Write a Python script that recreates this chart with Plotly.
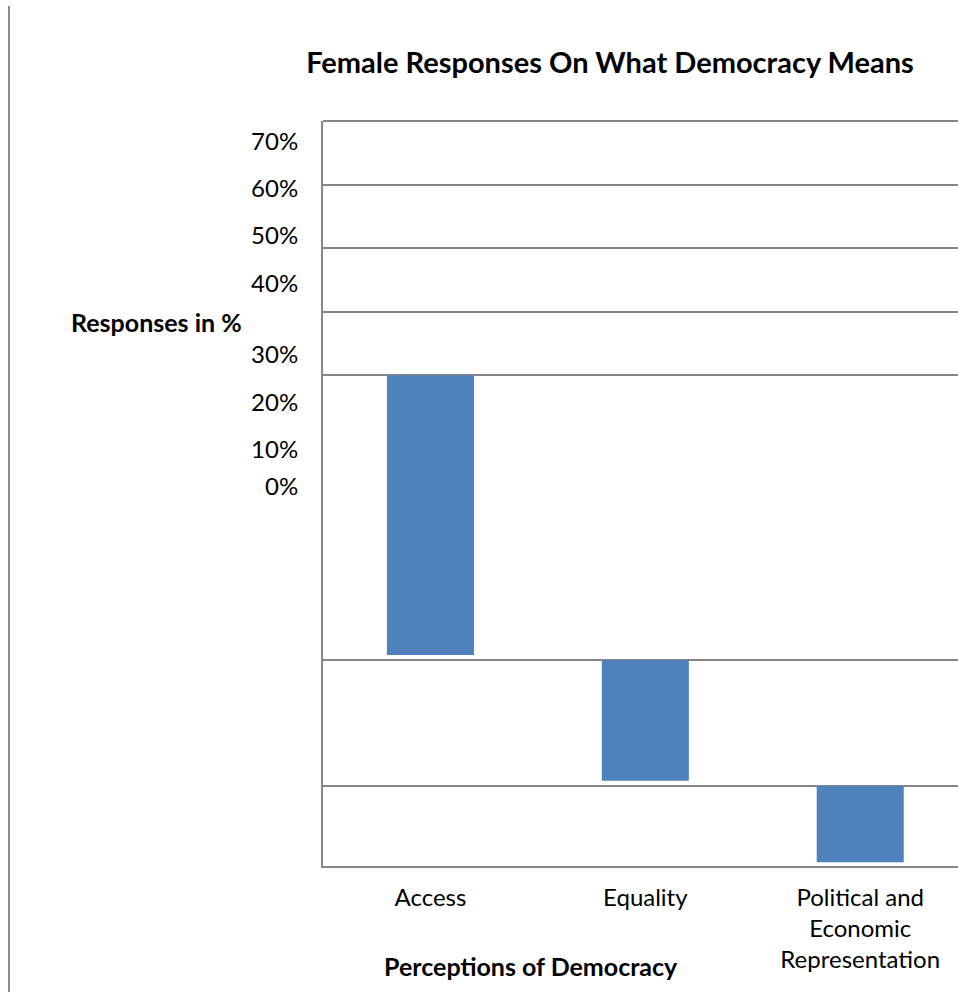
import plotly.graph_objects as go

# ---- data ----
categories = ["Access", "Equality", "Political and<br>Economic<br>Representation"]
values = [44, 19, 12]  # % responses
tick_labels = ["70%", "60%", "50%", "40%", "30%", "20%", "10%", "0%"]

title_text = "Female Responses On What Democracy Means"
y_title = "Responses in %"
x_title = "Perceptions of Democracy"

# ---- layout constants ----
W, H = 958, 992
ML, MR, MT, MB = 323, 0, 121, 126
PW, PH = W - ML - MR, H - MT - MB
OFFSET = 0.6   # gap below the lowest bar
GAP = 0.8      # gap between hanging bars
GRID = "#868686"
BAR = "#4F81BD"
FONT = "Lato"

# bars hang one below the other (as rendered in the original)
bases = []
b = OFFSET
for v in reversed(values):
    bases.append(b)
    b += v + GAP
bases = list(reversed(bases))
tops = [bb + v for bb, v in zip(bases, values)]
ytop = tops[0] + 40
grid_vals = tops + [tops[0] + 10 * k for k in range(1, 5)]

# tick label positions (page pixels) of the misplaced value axis
label_px = [142, 189, 236, 284, 355, 403, 450, 487]

fig = go.Figure()
fig.add_trace(go.Bar(
    x=list(range(len(categories))), y=values, base=bases,
    width=0.405, marker=dict(color=BAR, line=dict(width=0)),
    showlegend=False, hoverinfo="skip",
))
fig.add_trace(go.Scatter(x=[0], y=[500], yaxis="y2", mode="markers",
                         marker=dict(opacity=0), showlegend=False, hoverinfo="skip"))

def px_to_paper_x(px):
    return (px - ML) / PW

def px_to_paper_y(py):
    return (H - MB - py) / PH

fig.update_layout(
    width=W, height=H,
    margin=dict(l=ML, r=MR, t=MT, b=MB, pad=0),
    paper_bgcolor="white", plot_bgcolor="white",
    font=dict(family=FONT, size=24, color="black"),
    title=dict(text="<b>" + title_text + "</b>", x=610 / W, xanchor="center",
               y=1 - 63 / H, yanchor="middle", font=dict(size=29, family=FONT)),
    xaxis=dict(
        range=[-0.5, 2.455], tickmode="array",
        tickvals=list(range(len(categories))), ticktext=categories,
        showgrid=False, zeroline=False,
        showline=True, linecolor=GRID, linewidth=2,
        ticks="outside", ticklen=9, tickcolor="rgba(0,0,0,0)",
        tickfont=dict(size=24),
    ),
    yaxis=dict(
        range=[0, ytop], tickmode="array", tickvals=grid_vals,
        showticklabels=False, showgrid=True, gridcolor=GRID, gridwidth=2,
        zeroline=False, showline=True, linecolor=GRID, linewidth=2, ticks="",
    ),
    yaxis2=dict(
        overlaying="y", side="left", range=[H - MB, MT],
        tickmode="array", tickvals=label_px, ticktext=tick_labels,
        showgrid=False, zeroline=False, showline=False,
        ticks="outside", ticklen=19, tickcolor="rgba(0,0,0,0)",
        tickfont=dict(size=24),
    ),
    annotations=[
        dict(text="<b>" + y_title + "</b>", xref="paper", yref="paper",
             x=px_to_paper_x(156), y=px_to_paper_y(322),
             xanchor="center", yanchor="middle", showarrow=False,
             font=dict(size=25)),
        dict(text="<b>" + x_title + "</b>", xref="paper", yref="paper",
             x=px_to_paper_x(531), y=px_to_paper_y(966),
             xanchor="center", yanchor="middle", showarrow=False,
             font=dict(size=25)),
    ],
    shapes=[
        dict(type="line", xref="paper", yref="paper",
             x0=px_to_paper_x(9), x1=px_to_paper_x(9),
             y0=px_to_paper_y(6), y1=px_to_paper_y(H + 5),
             line=dict(color="#8a8a8a", width=2)),
        dict(type="line", xref="paper", yref="paper",
             x0=0, x1=1, y0=1, y1=1, line=dict(color=GRID, width=2)),
    ],
)

fig.write_html("out.html")
